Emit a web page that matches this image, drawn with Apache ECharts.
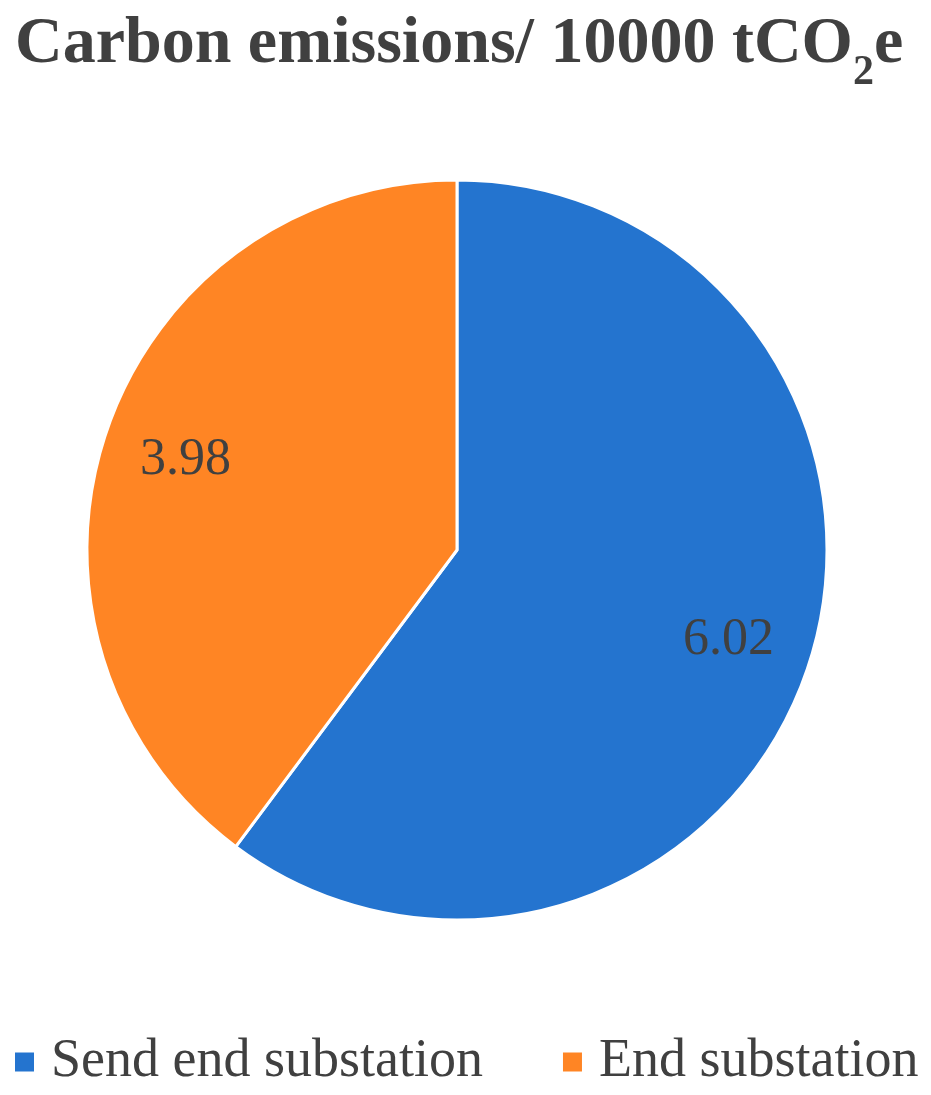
<!DOCTYPE html>
<html><head><meta charset="utf-8">
<script src="https://cdn.jsdelivr.net/npm/echarts@6/dist/echarts.min.js"></script>
<style>html,body{margin:0;padding:0;background:#fff}#c{width:931px;height:1095px}</style>
</head><body><div id="c"></div>
<script>
const categories = ['Send end substation', 'End substation'];
const values = [6.02, 3.98];
const colors = ['#2474CF', '#FF8524'];

const chart = echarts.init(document.getElementById('c'));
const data = categories.map((n, i) => ({ name: n, value: values[i], itemStyle: { color: colors[i] } }));
chart.setOption({
  animation: false,
  graphic: [{
    type: 'text', left: 15, top: 12,
    style: {
      text: '{a|Carbon emissions/ 10000 tCO}{s|2}{a|e}',
      rich: {
        a: { fontFamily: 'Liberation Serif', fontWeight: 'bold', fontSize: 66, fill: '#404040', verticalAlign: 'bottom' },
        s: { fontFamily: 'Liberation Serif', fontWeight: 'bold', fontSize: 42, fill: '#404040', verticalAlign: 'bottom', padding: [0,0,-16,0] }
      }
    }
  }],
  legend: {
    top: 1035, left: 13, width: 918, padding: 0, icon: 'rect', itemWidth: 21, itemHeight: 21, itemGap: 78,
    data: categories,
    textStyle: { fontFamily: 'Liberation Serif', fontSize: 54, color: '#404040', padding: [0,0,0,11] }
  },
  series: [{
    type: 'pie', center: [457, 550], radius: 370, startAngle: 90, clockwise: true,
    label: { show: false }, labelLine: { show: false },
    itemStyle: { borderColor: '#fff', borderWidth: 3 },
    data: data
  }, {
    type: 'pie', center: [457, 550], radius: [196, 370], startAngle: 90, clockwise: true, silent: true,
    label: { show: true, position: 'inside', fontFamily: 'Liberation Serif', fontSize: 52, color: '#404040', formatter: p => p.value.toFixed(2) },
    labelLine: { show: false },
    itemStyle: { color: 'rgba(0,0,0,0)', borderWidth: 0 },
    data: categories.map((n, i) => ({ name: n, value: values[i] }))
  }]
});
</script></body></html>
